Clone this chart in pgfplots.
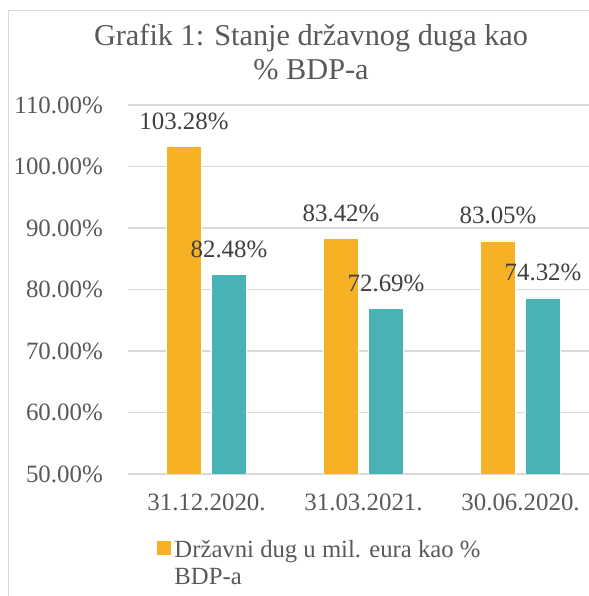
\documentclass[border=0pt]{standalone}
\usepackage{pgfplots}
\pgfplotsset{compat=1.18}
\usepackage{pgfplotstable}
\usepackage{fontspec}
\setmainfont{Liberation Serif}
\definecolor{cOrange}{HTML}{F6B224}
\definecolor{cTeal}{HTML}{48B2B4}
\definecolor{cGrid}{HTML}{D9D9D9}
\definecolor{cText}{HTML}{595959}
\definecolor{cLabel}{HTML}{404040}

% visible bar heights (percent) and their printed data labels
\pgfplotstableread{
x y lab
0 103.28 103.28
1 88.26 83.42
2 87.89 83.05
}\orangedata
\pgfplotstableread{
x y lab
0 82.48 82.48
1 76.94 72.69
2 78.62 74.32
}\tealdata

\begin{document}
\begin{tikzpicture}
\useasboundingbox (0bp,0bp) rectangle (589bp,596bp);
\clip (0bp,0bp) rectangle (589bp,596bp);
\draw[cGrid, line width=1bp] (8bp,0bp) -- (8bp,585bp) -- (589bp,585bp);
\begin{axis}[
  at={(128bp,122bp)}, anchor=south west,
  scale only axis, width=461bp, height=369bp,
  xmin=-0.5, xmax=2.436, ymin=50, ymax=110,
  /pgf/number format/assume math mode=true,
  xtick={0,1,2},
  xticklabels={31.12.2020., 31.03.2021., 30.06.2020.},
  ytick={50,60,...,110},
  yticklabel={\pgfmathprintnumber[fixed,fixed zerofill,precision=2]{\tick}\%},
  tick style={draw=none},
  major tick length=0pt,
  axis line style={draw=none},
  ymajorgrids,
  major grid style={cGrid, line width=1.3bp},
  yticklabel style={font=\fontsize{25}{30}\selectfont, text=cText, anchor=east, inner sep=0pt, xshift=-25bp},
  xticklabel style={font=\fontsize{25}{30}\selectfont, text=cText, anchor=north, inner sep=0pt, yshift=-20bp},
  title={Grafik 1: Stanje državnog duga kao\\\% BDP-a},
  title style={at={(axis description cs:0.397,1.2046)}, anchor=north, yshift=0pt, align=center, inner sep=0pt,
    font=\fontsize{30.4}{35}\selectfont, text=cText},
  legend style={at={(axis description cs:0.0629,-0.178)}, anchor=north west, draw=none, fill=none,
    inner sep=0pt, font=\fontsize{24.8}{27.6}\selectfont, text=cText,
    cells={align=left}, nodes={inner sep=0pt}, column sep=4bp},
]
\addplot[ybar, bar width=35bp, bar shift=-22.5bp, fill=cOrange, draw=white, line width=0.6bp,
  point meta=explicit symbolic,
  nodes near coords={\pgfplotspointmeta\%},
  every node near coord/.style={font=\fontsize{25}{30}\selectfont, text=cLabel, inner sep=0pt, anchor=south, xshift=-22.5bp, yshift=16.5bp},
  legend image code/.code={\fill[cOrange] (0bp,8.9bp) rectangle (12.7bp,21.6bp);}]
  table[x=x, y=y, meta=lab] {\orangedata};
\addlegendentry{Državni dug u mil. eura kao \%\\BDP-a}
\addplot[ybar, bar width=35bp, bar shift=22.5bp, fill=cTeal, draw=white, line width=0.6bp,
  point meta=explicit symbolic,
  nodes near coords={\pgfplotspointmeta\%},
  every node near coord/.style={font=\fontsize{25}{30}\selectfont, text=cLabel, inner sep=0pt, anchor=south, xshift=22.5bp, yshift=16.5bp}]
  table[x=x, y=y, meta=lab] {\tealdata};
\end{axis}
\end{tikzpicture}
\end{document}
